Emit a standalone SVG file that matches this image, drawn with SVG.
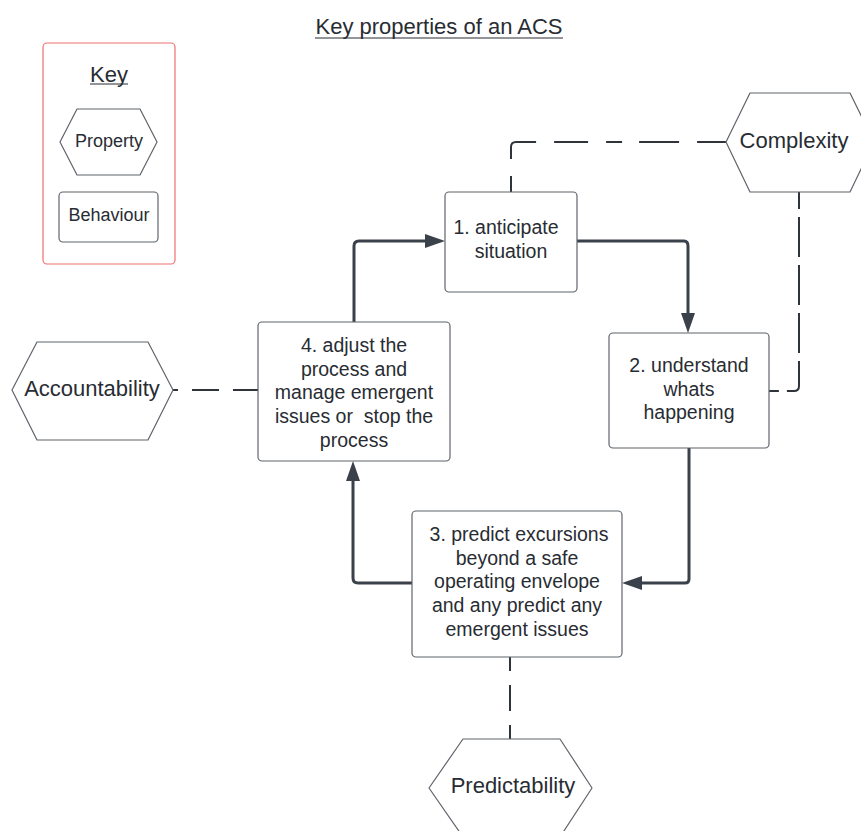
<svg xmlns="http://www.w3.org/2000/svg" width="861" height="831" viewBox="0 0 861 831">
<defs>
<style>
text{font-family:"Liberation Sans",Arial,sans-serif;fill:#282c33;text-anchor:middle;dominant-baseline:central}
.box{fill:#fff;stroke:#5f646b;stroke-width:1.2}
.hex{fill:#fff;stroke:#5f646b;stroke-width:1.2;stroke-linejoin:round}
.flow{fill:none;stroke:#3a414b;stroke-width:3;stroke-linejoin:round}
.dash{fill:none;stroke:#2f343b;stroke-width:2}
.ah{fill:#3a414b}
.t18{font-size:18px}
.t19{font-size:19.5px}
.t22{font-size:22px}
</style>
</defs>
<rect width="861" height="831" fill="#fff"/>

<g id="title">
<text x="439" y="26" class="t22">Key properties of an ACS</text>
<line x1="315" y1="38" x2="563" y2="38" stroke="#282c33" stroke-width="1.2"/>
</g>

<g id="key">
<rect x="43" y="43" width="132" height="221" rx="4" fill="#fff" stroke="#f07070" stroke-width="1.2"/>
<text x="109" y="74" class="t22">Key</text>
<line x1="90" y1="84" x2="128" y2="84" stroke="#282c33" stroke-width="1.2"/>
<polygon class="hex" points="60,142 77,109 140,109 157,142 140,175 77,175"/>
<text x="109" y="141" class="t18">Property</text>
<rect class="box" x="59" y="192" width="99" height="50" rx="4"/>
<text x="109" y="215" class="t18">Behaviour</text>
</g>

<g id="connectors">
<path class="flow" d="M354,322 V246 Q354,241 359,241 H430"/>
<path class="ah" d="M425,234 L445,241 L425,248 z"/>
<path class="flow" d="M577,241 H684 Q688,241 688,246 V317"/>
<path class="ah" d="M681,313 L688,333 L695,313 z"/>
<path class="flow" d="M689,448 V579 Q689,583 685,583 H638"/>
<path class="ah" d="M642,576 L622,583 L642,590 z"/>
<path class="flow" d="M412,583 H358 Q353,583 353,578 V477"/>
<path class="ah" d="M346,481 L353,461 L360,481 z"/>

<path class="dash" d="M511,192 V147 Q511,142 516,142 H726" stroke-dasharray="16 17 40 18 34 18" stroke-dashoffset="0"/>
<path class="dash" d="M799,192 V386 Q799,391 794,391 H769" stroke-dasharray="17 8 40 8 40 8 40 8 40 8 60"/>
<path class="dash" d="M173,390 H258" stroke-dasharray="27 14" stroke-dashoffset="22"/>
<path class="dash" d="M510,657 V739" stroke-dasharray="14 14 26 14 26 14"/>
</g>

<g id="node-complexity">
<polygon class="hex" points="726,142 750,93 850,93 874,142 850,192 750,192"/>
<text x="794" y="140" class="t22">Complexity</text>
</g>

<g id="node-accountability">
<polygon class="hex" points="12,390 37,342 148,342 173,390 148,440 37,440"/>
<text x="92" y="388" class="t22">Accountability</text>
</g>

<g id="node-predictability">
<polygon class="hex" points="429,788 463,739 560,739 592,788 560,837 463,837"/>
<text x="513" y="785" class="t22">Predictability</text>
</g>

<g id="node-1">
<rect class="box" x="445" y="192" width="132" height="100" rx="4"/>
<text x="506" y="227" class="t19">1. anticipate</text>
<text x="511" y="251" class="t19">situation</text>
</g>

<g id="node-2">
<rect class="box" x="609" y="333" width="160" height="115" rx="4"/>
<text x="689" y="365" class="t19">2. understand</text>
<text x="689" y="389" class="t19">whats</text>
<text x="689" y="412" class="t19">happening</text>
</g>

<g id="node-3">
<rect class="box" x="412" y="511" width="210" height="146" rx="4"/>
<text x="519" y="534" class="t19">3. predict excursions</text>
<text x="517" y="558" class="t19">beyond a safe</text>
<text x="517" y="581" class="t19">operating envelope</text>
<text x="517" y="605" class="t19">and any predict any</text>
<text x="517" y="629" class="t19">emergent issues</text>
</g>

<g id="node-4">
<rect class="box" x="258" y="322" width="192" height="139" rx="4"/>
<text x="354" y="345" class="t19">4. adjust the</text>
<text x="354" y="369" class="t19">process and</text>
<text x="354" y="392" class="t19">manage emergent</text>
<text x="354" y="416" class="t19" xml:space="preserve">issues or  stop the</text>
<text x="354" y="440" class="t19">process</text>
</g>
</svg>
